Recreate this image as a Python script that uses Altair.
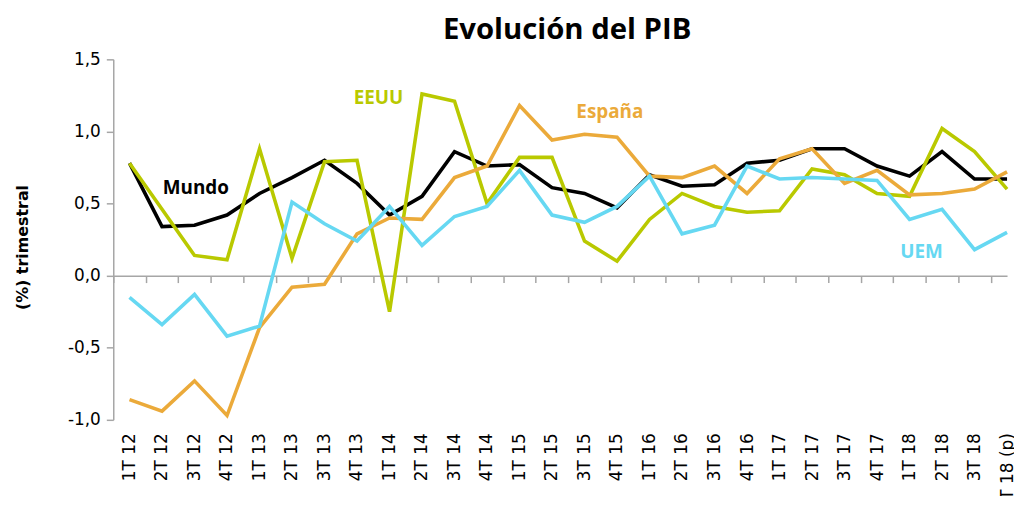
import json
import altair as alt
import pandas as pd

categories = ["1T 12", "2T 12", "3T 12", "4T 12", "1T 13", "2T 13", "3T 13", "4T 13",
              "1T 14", "2T 14", "3T 14", "4T 14", "1T 15", "2T 15", "3T 15", "4T 15",
              "1T 16", "2T 16", "3T 16", "4T 16", "1T 17", "2T 17", "3T 17", "4T 17",
              "1T 18", "2T 18", "3T 18", "4T 18 (p)"]

series_names = ["Mundo", "EEUU", "España", "UEM"]
series_colors = ["#000000", "#B9C900", "#EBAA3A", "#66D8F2"]

mundo = [0.78, 0.34, 0.35, 0.42, 0.57, 0.68, 0.80, 0.64, 0.42, 0.55, 0.86, 0.76, 0.77, 0.61,
         0.57, 0.47, 0.70, 0.62, 0.63, 0.78, 0.80, 0.88, 0.88, 0.76, 0.69, 0.86, 0.67, 0.67]
eeuu = [0.78, 0.46, 0.14, 0.11, 0.88, 0.12, 0.79, 0.80, -0.25, 1.26, 1.21, 0.50, 0.82, 0.82,
        0.24, 0.10, 0.39, 0.57, 0.48, 0.44, 0.45, 0.74, 0.70, 0.57, 0.55, 1.02, 0.86, 0.60]
espana = [-0.86, -0.94, -0.73, -0.97, -0.36, -0.08, -0.06, 0.29, 0.40, 0.39, 0.68, 0.76, 1.18, 0.94,
          0.98, 0.96, 0.69, 0.68, 0.76, 0.57, 0.81, 0.88, 0.64, 0.73, 0.56, 0.57, 0.60, 0.72]
uem = [-0.15, -0.34, -0.13, -0.42, -0.35, 0.51, 0.36, 0.24, 0.48, 0.21, 0.41, 0.48, 0.73, 0.42,
       0.37, 0.48, 0.69, 0.29, 0.35, 0.76, 0.67, 0.68, 0.67, 0.66, 0.39, 0.46, 0.18, 0.30]

# in-chart series labels: position in category-index units and value units
label_texts = ["Mundo", "EEUU", "España", "UEM"]
label_idx = [2.04, 7.66, 14.78, 24.37]
label_vals = [0.606, 1.232, 1.136, 0.165]

y_ticks = [-1.0, -0.5, 0.0, 0.5, 1.0, 1.5]
Y_MIN, Y_MAX = -1.0, 1.5
X_MIN, X_MAX = -0.5, len(categories) - 1
W, H = 900, 363
GRAY = "#A6A6A6"

rows = []
for name, vals in zip(series_names, [mundo, eeuu, espana, uem]):
    for i, (c, v) in enumerate(zip(categories, vals)):
        rows.append({"serie": name, "idx": i, "trimestre": c, "valor": v})
df = pd.DataFrame(rows)

labels_df = pd.DataFrame({"serie": label_texts, "idx": label_idx, "valor": label_vals})

x_scale = alt.Scale(domain=[X_MIN, X_MAX], nice=False, zero=False)
y_scale = alt.Scale(domain=[Y_MIN, Y_MAX], nice=False, zero=False)
color_scale = alt.Scale(domain=series_names, range=series_colors)

label_axis = alt.Axis(orient="bottom", title=None, domain=False, ticks=False, tickSize=0,
                      grid=False, values=list(range(len(categories))),
                      labelExpr=json.dumps(categories) + "[datum.value]",
                      labelAngle=-90, labelAlign="right", labelBaseline="middle",
                      labelFont="DejaVu Sans", labelFontSize=17, labelColor="#000000",
                      labelPadding=13, labelLimit=200, labelOverlap=False,
                      labelFlush=False, labelBound=False)

tick_axis = alt.Axis(orient="bottom", offset=-H * (0 - Y_MIN) / (Y_MAX - Y_MIN),
                     labels=False, title=None, grid=False,
                     values=[i - 0.5 for i in range(len(categories))],
                     domain=True, domainColor=GRAY, domainWidth=1.5, ticks=True,
                     tickColor=GRAY, tickWidth=1.5, tickSize=7)

y_axis = alt.Axis(values=y_ticks, grid=False, tickSize=7, tickColor=GRAY, tickWidth=1.5,
                  domainColor=GRAY, domainWidth=1.5,
                  labelExpr="replace(replace(format(datum.value, '.1f'), '.', ','), '−', '-')",
                  labelFont="DejaVu Sans", labelFontSize=17, labelColor="#000000",
                  labelPadding=6, title="(%) trimestral", titleFont="DejaVu Sans",
                  titleFontSize=16, titleFontWeight="bold", titleColor="#000000",
                  titlePadding=37, titleY=189)

lines = alt.Chart(df).mark_line(strokeWidth=3.6).encode(
    x=alt.X("idx:Q", scale=x_scale, axis=label_axis),
    y=alt.Y("valor:Q", scale=y_scale, axis=y_axis),
    color=alt.Color("serie:N", scale=color_scale, legend=None),
)

texts = alt.Chart(labels_df).mark_text(font="Open Sans", fontSize=19, fontWeight="bold",
                                       align="center", baseline="middle").encode(
    x=alt.X("idx:Q", scale=x_scale, axis=tick_axis),
    y=alt.Y("valor:Q", scale=y_scale, axis=y_axis),
    color=alt.Color("serie:N", scale=color_scale, legend=None),
    text="serie:N",
)

chart = alt.layer(lines, texts).resolve_axis(x="independent").properties(
    width=W, height=H,
    autosize=alt.AutoSizeParams(type="none"),
    padding={"left": 106, "top": 50, "right": 7, "bottom": 75},
    title=alt.TitleParams("Evolución del PIB", font="Open Sans", fontSize=29.5,
                          fontWeight="bold", color="#000000", offset=5, anchor="middle",
                          dx=7),
).configure_view(stroke=None)

chart.save("out.html", embed_options={"renderer": "svg", "actions": False})
